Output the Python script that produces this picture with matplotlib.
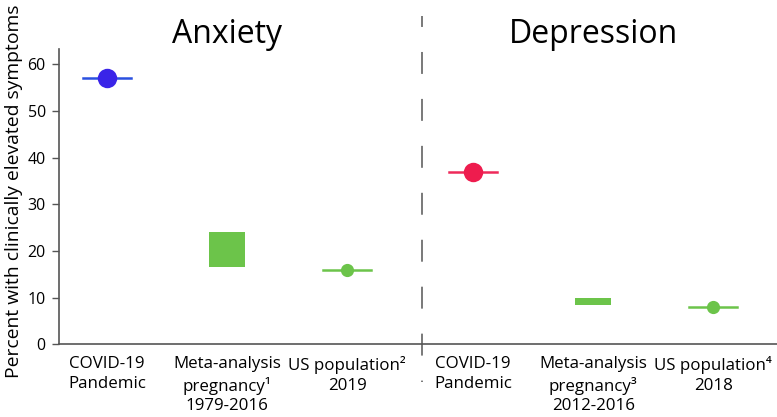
import matplotlib
matplotlib.use("Agg")
import matplotlib.pyplot as plt

plt.rcParams['font.family'] = ['Open Sans', 'DejaVu Sans']

# ---- data ----
panels = ["Anxiety", "Depression"]
labels = ["COVID-19\nPandemic", "Meta-analysis\npregnancy\u00b9\n1979-2016", "US population\u00b2\n2019",
          "COVID-19\nPandemic", "Meta-analysis\npregnancy\u00b3\n2012-2016", "US population\u2074\n2018"]
xpos = [0, 1, 2, 3.05, 4.05, 5.05]
covid_vals = [57, 37]
meta_low = [16.6, 8.5]
meta_high = [24.0, 10.0]
uspop_vals = [16, 8]
yticks = [0, 10, 20, 30, 40, 50, 60]

covid_colors = [("#3a24e8", "#2a50e0"), ("#ee1c4e", "#ee2a5a")]
green = "#6cc44a"

fig = plt.figure(figsize=(7.77, 4.17), dpi=100)
ax = fig.add_axes([59/777, 1-344.3/417, 1-59/777, (344.3-49.3)/417])
ax.set_xlim(-0.4, 5.58)
ax.set_ylim(0, 63.2)

hw = 0.2
for i in range(2):
    xc = xpos[3*i]
    ax.plot([xc-hw, xc+hw], [covid_vals[i]]*2, color=covid_colors[i][1], lw=1.8, zorder=2)
    ax.plot([xc], [covid_vals[i]], 'o', ms=14, color=covid_colors[i][0], mec='none', zorder=3)
    xm = xpos[3*i+1]
    ax.bar([xm], [meta_high[i]-meta_low[i]], bottom=[meta_low[i]], width=0.3, color=green, zorder=2)
    xu = xpos[3*i+2]
    ax.plot([xu-hw, xu+hw], [uspop_vals[i]]*2, color=green, lw=1.8, zorder=2)
    ax.plot([xu], [uspop_vals[i]], 'o', ms=9.5, color=green, mec='none', zorder=3)
    ax.text(xm, 64.5, panels[i], ha='center', va='baseline', fontsize=23)

ax.set_yticks(yticks)
ax.set_xticks([])
ax.tick_params(axis='y', length=5, width=1, color='#555555', labelsize=11.5, pad=4.5)
for s in ['top', 'right']:
    ax.spines[s].set_visible(False)
for s in ['left', 'bottom']:
    ax.spines[s].set_color('#555555')
    ax.spines[s].set_linewidth(1.2)

for x, lab in zip(xpos, labels):
    ax.text(x, -2.6, lab, ha='center', va='top', fontsize=12.2, linespacing=1.3)

# divider
xd = 2.625
ax.plot([xd, xd], [70.4, -8.0], color='#555555', lw=1.1, clip_on=False,
        linestyle=(7.9/1.1, (15.8/1.1, 18/1.1)))

ax.set_ylabel("Percent with clinically elevated symptoms", fontsize=13.9)
ax.yaxis.set_label_coords(-0.05, 0.52)

fig.savefig("out.png", dpi=100)
